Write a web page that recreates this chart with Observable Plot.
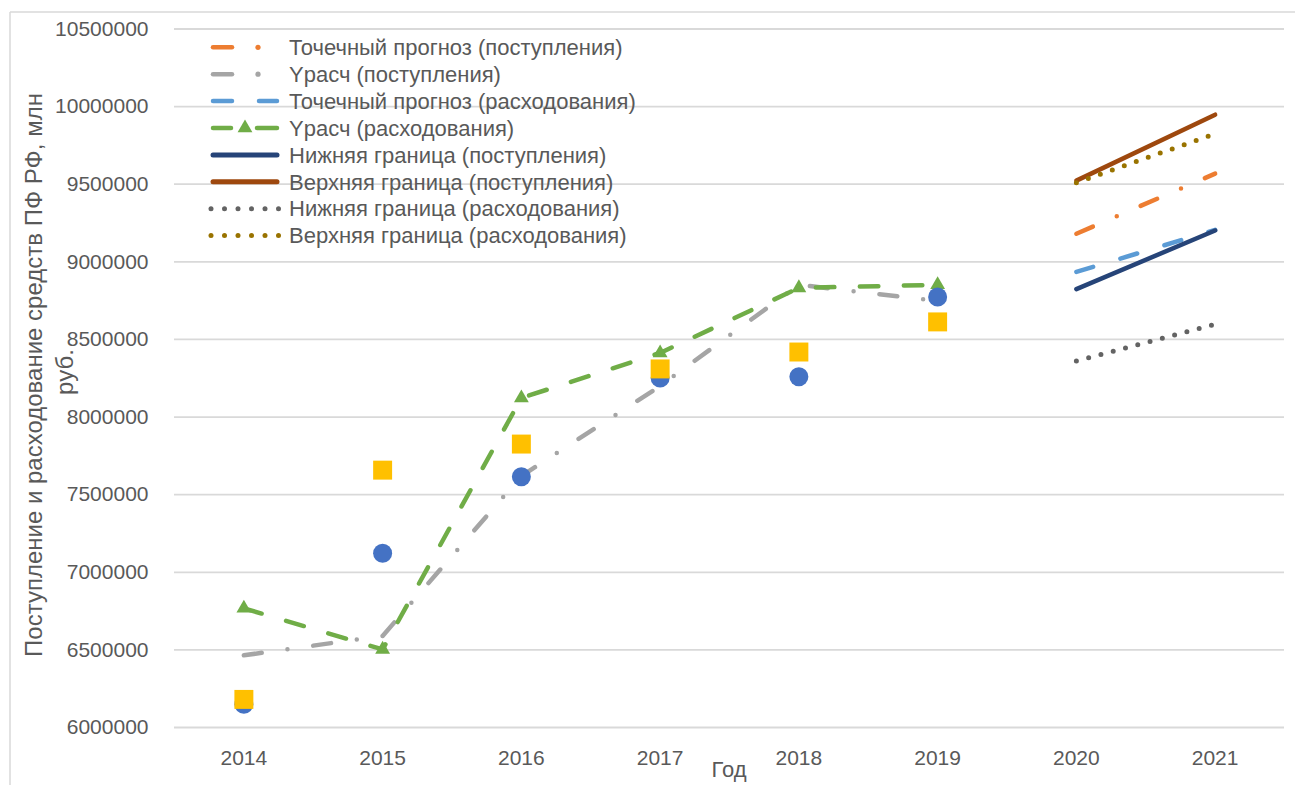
<!DOCTYPE html>
<html>
<head>
<meta charset="utf-8">
<script src="https://cdn.jsdelivr.net/npm/d3@7"></script>
<script src="https://cdn.jsdelivr.net/npm/@observablehq/plot@0.6"></script>
<style>
  html, body { margin: 0; padding: 0; background: #fff; }
  #chart { width: 1295px; height: 785px; overflow: hidden; }
</style>
</head>
<body>
<div id="chart"></div>
<script>
// ---- data ----
const allYears = [2014, 2015, 2016, 2017, 2018, 2019, 2020, 2021];
const years = [2014, 2015, 2016, 2017, 2018, 2019];
const forecastYears = [2020, 2021];
const yTicks = [6000000, 6500000, 7000000, 7500000, 8000000, 8500000, 9000000, 9500000, 10000000, 10500000];

// fact (markers)
const incomeFact = [6150000, 7123000, 7615000, 8252000, 8260000, 8774000];   // blue circles
const expenseFact = [6181000, 7658000, 7826000, 8310000, 8419000, 8613000];  // yellow squares

// model values
const incomeCalc = [6465000, 6590000, 7620000, 8200000, 8852000, 8748000];   // Yрасч (поступления)
const expenseCalc = [6768000, 6503000, 8123000, 8413000, 8832000, 8852000];  // Yрасч (расходования)

// forecasts 2020-2021
const incomeForecast = [9181000, 9568000];
const expenseForecast = [8935000, 9206000];
const incomeLower = [8824000, 9202000];
const incomeUpper = [9523000, 9948000];
const expenseLower = [8361000, 8597000];
const expenseUpper = [9510000, 9825000];

const seriesNames = [
  "Точечный прогноз (поступления)",
  "Yрасч (поступления)",
  "Точечный прогноз (расходования)",
  "Yрасч (расходования)",
  "Нижняя граница (поступления)",
  "Верхняя граница (поступления)",
  "Нижняя граница (расходования)",
  "Верхняя граница (расходования)"
];
const seriesColors = ["#ED7D31", "#A5A5A5", "#5B9BD5", "#70AD47", "#264478", "#9E480E", "#636363", "#997300"];

const toRows = (xs, vs) => xs.map((x, i) => ({year: x, value: vs[i]}));

const FONT = "'Liberation Sans', Arial, sans-serif";
const TEXT = "#595959";

const lineStyle = (color, dash) => ({
  x: "year", y: "value", stroke: color, strokeWidth: 4.5,
  strokeLinecap: "round", strokeLinejoin: "round",
  strokeDasharray: dash
});

const chart = Plot.plot({
  width: 1295,
  height: 785,
  marginLeft: 174,
  marginRight: 11,
  marginTop: 28.5,
  marginBottom: 58,
  style: {fontFamily: FONT, fontSize: "21px", color: TEXT, background: "#fff", overflow: "visible"},
  x: {domain: [2013.5, 2021.5], ticks: allYears, tickFormat: d => String(d), tickSize: 0, tickPadding: 23, label: null},
  y: {domain: [6000000, 10500000], ticks: yTicks, tickFormat: d => String(d), tickSize: 0, tickPadding: 26, label: null},
  marks: [
    Plot.ruleY(yTicks, {stroke: "#d9d9d9", strokeWidth: 1.8}),
    Plot.line(toRows(forecastYears, incomeForecast), lineStyle(seriesColors[0], "18,26,0,26")),
    Plot.line(toRows(years, incomeCalc), lineStyle(seriesColors[1], "18,26,0,26")),
    Plot.line(toRows(forecastYears, expenseForecast), lineStyle(seriesColors[2], "17.5,28.5")),
    Plot.line(toRows(years, expenseCalc), lineStyle(seriesColors[3], "18.5,25.5")),
    Plot.dot(toRows(years, expenseCalc), {x: "year", y: "value", symbol: "triangle", r: 5.5, fill: seriesColors[3], stroke: "none"}),
    Plot.line(toRows(forecastYears, incomeLower), lineStyle(seriesColors[4], null)),
    Plot.line(toRows(forecastYears, incomeUpper), lineStyle(seriesColors[5], null)),
    Plot.line(toRows(forecastYears, expenseLower), {...lineStyle(seriesColors[6], "0,12.7"), strokeWidth: 5}),
    Plot.line(toRows(forecastYears, expenseUpper), {...lineStyle(seriesColors[7], "0,12.7"), strokeWidth: 5}),
    Plot.dot(toRows(years, incomeFact), {x: "year", y: "value", r: 9.5, fill: "#4472C4", stroke: "none"}),
    Plot.dot(toRows(years, expenseFact), {x: "year", y: "value", symbol: "square", r: 10.7, fill: "#FFC000", stroke: "none"})
  ]
});

document.getElementById("chart").appendChild(chart);

const svg = d3.select(chart);

// outer chart-area border (top and left edges visible)
svg.append("line").attr("x1", 10).attr("x2", 1295).attr("y1", 12).attr("y2", 12)
  .attr("stroke", "#d9d9d9").attr("stroke-width", 1.5);
svg.append("line").attr("x1", 10).attr("x2", 10).attr("y1", 12).attr("y2", 785)
  .attr("stroke", "#d9d9d9").attr("stroke-width", 1.5);

// axis titles
const yTitle = svg.append("g").attr("font-family", FONT).attr("font-size", 24).attr("fill", TEXT).attr("text-anchor", "middle");
yTitle.append("text").attr("transform", "translate(42,375) rotate(-90)").text("Поступление и расходование средств ПФ РФ, млн");
yTitle.append("text").attr("transform", "translate(73,372) rotate(-90)").text("руб.");
svg.append("text").attr("x", 729).attr("y", 777).attr("text-anchor", "middle")
  .attr("font-family", FONT).attr("font-size", 22).attr("fill", TEXT).text("Год");

// legend (inside plot area, transparent background)
const lg = svg.append("g").attr("font-family", FONT).attr("font-size", 22).attr("fill", TEXT).attr("text-anchor", "start");
const rowY = i => 47.3 + 26.9 * i;
const seg = (g, x1, x2, y, c, w) => g.append("line").attr("x1", x1).attr("x2", x2).attr("y1", y).attr("y2", y)
  .attr("stroke", c).attr("stroke-width", w || 4.5).attr("stroke-linecap", "round");
const dot = (g, x, y, r, c) => g.append("circle").attr("cx", x).attr("cy", y).attr("r", r).attr("fill", c);
seriesNames.forEach((name, i) => {
  const y = rowY(i), c = seriesColors[i];
  const g = lg.append("g");
  if (i === 0 || i === 1) { seg(g, 213, 232, y, c); dot(g, 258, y, 2.6, c); }
  else if (i === 2) { seg(g, 213, 232, y, c); seg(g, 259, 277, y, c); }
  else if (i === 3) {
    seg(g, 213, 231, y, c); seg(g, 257, 277, y, c);
    g.append("path").attr("d", d3.symbol(d3.symbolTriangle, 95)()).attr("transform", `translate(245,${y})`).attr("fill", c);
  }
  else if (i === 4 || i === 5) { seg(g, 213, 277, y, c, 5); }
  else { [211, 224.5, 238, 251.5, 265, 278.5].forEach(x => dot(g, x, y, 2.5, c)); }
  g.append("text").attr("x", 289).attr("y", y).attr("dy", "0.35em").attr("text-anchor", "start").text(name);
});
</script>
</body>
</html>
